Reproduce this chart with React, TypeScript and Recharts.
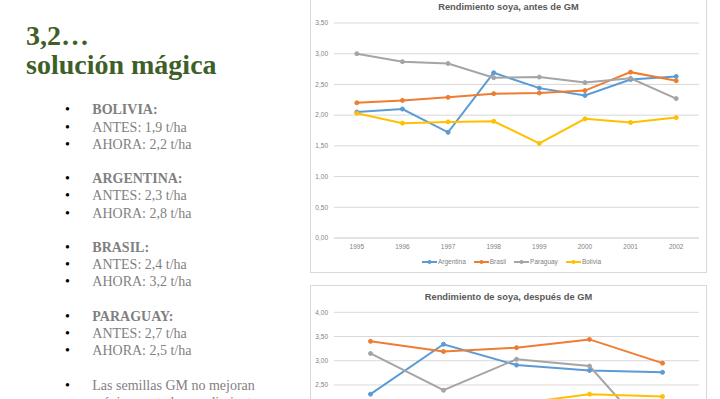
import React from 'react';
import { LineChart, Line, XAxis, YAxis, CartesianGrid } from 'recharts';

// ---- Data ----
const yearsBefore = ['1995', '1996', '1997', '1998', '1999', '2000', '2001', '2002'];
const argentinaBefore = [2.05, 2.1, 1.72, 2.69, 2.44, 2.32, 2.58, 2.63];
const brasilBefore = [2.2, 2.24, 2.29, 2.35, 2.36, 2.4, 2.7, 2.56];
const paraguayBefore = [3.0, 2.87, 2.84, 2.61, 2.62, 2.53, 2.6, 2.27];
const boliviaBefore = [2.03, 1.87, 1.89, 1.9, 1.54, 1.94, 1.88, 1.96];

const yearsAfter = ['2003', '2004', '2005', '2006', '2007'];
const argentinaAfter = [2.31, 3.34, 2.91, 2.8, 2.76];
const brasilAfter = [3.4, 3.19, 3.27, 3.44, 2.95];
const paraguayAfter = [3.15, 2.39, 3.03, 2.89, 1.2];
const boliviaAfter = [2.1, 2.15, 2.11, 2.31, 2.26];

const ticksBefore = [0, 0.5, 1, 1.5, 2, 2.5, 3, 3.5];
const ticksAfter = [0, 0.5, 1, 1.5, 2, 2.5, 3, 3.5, 4];

const seriesNames = ['Argentina', 'Brasil', 'Paraguay', 'Bolivia'];
const seriesColors = ['#5b9bd5', '#ed7d31', '#a5a5a5', '#ffc000'];

const titleBefore = 'Rendimiento soya, antes de GM';
const titleAfter = 'Rendimiento de soya, después de GM';

const slideTitle = ['3,2…', 'solución mágica'];
const bulletLines: { text: string; bold: boolean; row: number }[] = [
  { text: 'BOLIVIA:', bold: true, row: 0 },
  { text: 'ANTES: 1,9 t/ha', bold: false, row: 1 },
  { text: 'AHORA: 2,2 t/ha', bold: false, row: 2 },
  { text: 'ARGENTINA:', bold: true, row: 4 },
  { text: 'ANTES: 2,3 t/ha', bold: false, row: 5 },
  { text: 'AHORA: 2,8 t/ha', bold: false, row: 6 },
  { text: 'BRASIL:', bold: true, row: 8 },
  { text: 'ANTES: 2,4 t/ha', bold: false, row: 9 },
  { text: 'AHORA: 3,2 t/ha', bold: false, row: 10 },
  { text: 'PARAGUAY:', bold: true, row: 12 },
  { text: 'ANTES: 2,7 t/ha', bold: false, row: 13 },
  { text: 'AHORA: 2,5 t/ha', bold: false, row: 14 },
  { text: 'Las semillas GM no mejoran', bold: false, row: 16 },
];
const continuationLine = { text: 'mágicamente los rendimientos', row: 17 };

function buildData(years: string[], arrays: number[][]) {
  return years.map((y, i) => {
    const row: Record<string, string | number> = { year: y };
    seriesNames.forEach((n, k) => {
      row[n] = arrays[k][i];
    });
    return row;
  });
}

const dataBefore = buildData(yearsBefore, [argentinaBefore, brasilBefore, paraguayBefore, boliviaBefore]);
const dataAfter = buildData(yearsAfter, [argentinaAfter, brasilAfter, paraguayAfter, boliviaAfter]);

const fmt = (v: number) => v.toFixed(2).replace('.', ',');

const CHART_FONT = '"Liberation Sans", Arial, sans-serif';
const PLOT_WIDTH = 365;

function ChartBox(props: {
  left: number;
  top: number;
  height: number;
  chartHeight: number;
  plotTop: number;
  title: string;
  data: Record<string, string | number>[];
  ticks: number[];
}) {
  const { left, top, height, chartHeight, plotTop, title, data, ticks } = props;
  const plotBottom = chartHeight - 34;
  const halfBand = PLOT_WIDTH / data.length / 2;
  return (
    <div
      style={{
        position: 'absolute',
        left,
        top,
        width: 397,
        height,
        border: '1px solid #d9d9d9',
        boxSizing: 'border-box',
        background: '#fff',
      }}
    >
      <div
        style={{
          position: 'absolute',
          left: 0,
          top: 5.3,
          width: '100%',
          textAlign: 'center',
          fontFamily: CHART_FONT,
          fontWeight: 'bold',
          fontSize: 9.3,
          lineHeight: '12px',
          color: '#595959',
          whiteSpace: 'nowrap',
        }}
      >
        {title}
      </div>
      <div style={{ position: 'absolute', left: 0, top: 0 }}>
        <LineChart
          width={395}
          height={chartHeight}
          data={data}
          margin={{ top: plotTop, right: 7, bottom: 0, left: 0 }}
          style={{ fontFamily: CHART_FONT }}
        >
          <CartesianGrid vertical={false} stroke="#d9d9d9" strokeWidth={1} />
          <XAxis
            dataKey="year"
            interval={0}
            padding={{ left: halfBand, right: halfBand }}
            tickLine={false}
            tickSize={4}
            tickMargin={2}
            height={34}
            axisLine={{ stroke: '#d9d9d9' }}
            tick={{ fontSize: 6.5, fill: '#7f7f7f', fontFamily: CHART_FONT }}
          />
          <YAxis
            domain={[0, ticks[ticks.length - 1]]}
            ticks={ticks}
            interval={0}
            tickFormatter={fmt}
            axisLine={false}
            tickLine={false}
            tickSize={4}
            tickMargin={2}
            width={23}
            tick={{ fontSize: 6.5, fill: '#7f7f7f', fontFamily: CHART_FONT }}
          />
          {seriesNames.map((n, k) => (
            <Line
              key={n}
              type="linear"
              dataKey={n}
              stroke={seriesColors[k]}
              strokeWidth={2}
              dot={{ r: 2, fill: seriesColors[k], stroke: seriesColors[k], strokeWidth: 1 }}
              isAnimationActive={false}
            />
          ))}
        </LineChart>
      </div>
      <div
        style={{
          position: 'absolute',
          left: 3,
          top: plotBottom + 24.3 - 5,
          width: 395,
          height: 10,
          display: 'flex',
          justifyContent: 'center',
          alignItems: 'center',
          fontFamily: CHART_FONT,
          fontSize: 6.5,
          color: '#7f7f7f',
          whiteSpace: 'nowrap',
        }}
      >
        {seriesNames.map((n, k) => (
          <div key={n} style={{ display: 'flex', alignItems: 'center', marginLeft: k === 0 ? 0 : 8 }}>
            <svg width={15} height={6} style={{ display: 'block' }}>
              <line x1={0} y1={3} x2={15} y2={3} stroke={seriesColors[k]} strokeWidth={2} />
              <circle cx={7.5} cy={3} r={2} fill={seriesColors[k]} />
            </svg>
            <span style={{ marginLeft: 1, lineHeight: '10px' }}>{n}</span>
          </div>
        ))}
      </div>
    </div>
  );
}

const SERIF = '"Liberation Serif", "Times New Roman", serif';

export default function App() {
  const rowPitch = 17.2;
  const firstRowTop = 101.4;
  return (
    <div
      style={{
        position: 'absolute',
        left: 0,
        top: 0,
        width: 720,
        height: 399,
        overflow: 'hidden',
        background: '#ffffff',
      }}
    >
      {slideTitle.map((t, i) => (
        <div
          key={t}
          style={{
            position: 'absolute',
            left: 26,
            top: 20.6 + i * 29.3,
            fontFamily: SERIF,
            fontWeight: 'bold',
            fontSize: 28,
            lineHeight: '30px',
            color: '#3f5f28',
            whiteSpace: 'nowrap',
          }}
        >
          {t}
        </div>
      ))}
      {bulletLines.map((b) => (
        <React.Fragment key={b.text + b.row}>
          <div
            style={{
              position: 'absolute',
              left: 65,
              top: firstRowTop + b.row * rowPitch,
              fontFamily: SERIF,
              fontSize: 14,
              lineHeight: `${rowPitch}px`,
              color: '#000',
            }}
          >
            •
          </div>
          <div
            style={{
              position: 'absolute',
              left: 92.3,
              top: firstRowTop + b.row * rowPitch,
              fontFamily: SERIF,
              fontSize: 14,
              fontWeight: b.bold ? 'bold' : 'normal',
              lineHeight: `${rowPitch}px`,
              color: '#7f7f7f',
              whiteSpace: 'nowrap',
            }}
          >
            {b.text}
          </div>
        </React.Fragment>
      ))}
      <div
        style={{
          position: 'absolute',
          left: 92.3,
          top: firstRowTop + continuationLine.row * rowPitch,
          fontFamily: SERIF,
          fontSize: 14,
          lineHeight: `${rowPitch}px`,
          color: '#7f7f7f',
          whiteSpace: 'nowrap',
        }}
      >
        {continuationLine.text}
      </div>

      <ChartBox
        left={310}
        top={-5}
        height={278}
        chartHeight={276}
        plotTop={27}
        title={titleBefore}
        data={dataBefore}
        ticks={ticksBefore}
      />
      <ChartBox
        left={310}
        top={285}
        height={256}
        chartHeight={254}
        plotTop={26.3}
        title={titleAfter}
        data={dataAfter}
        ticks={ticksAfter}
      />
    </div>
  );
}
